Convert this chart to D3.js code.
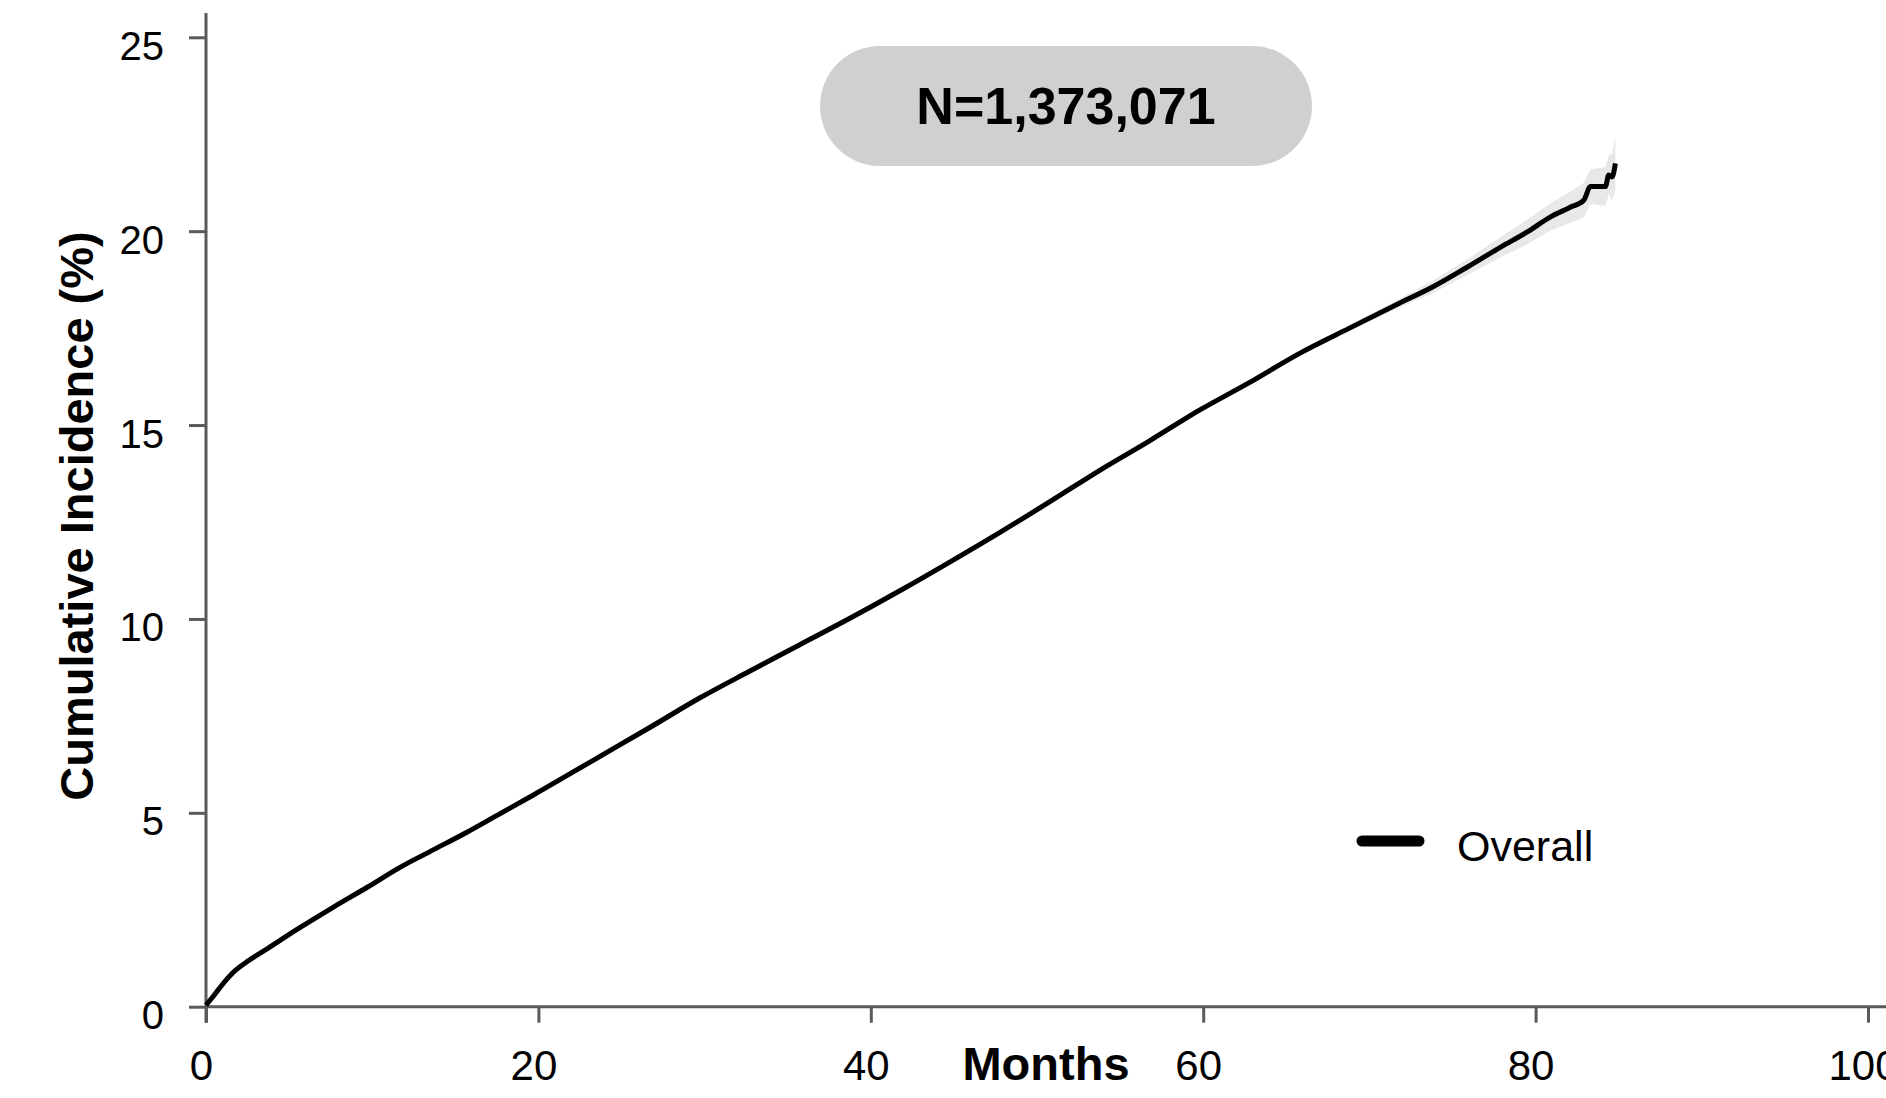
<!DOCTYPE html>
<html>
<head>
<meta charset="utf-8">
<script src="https://cdn.jsdelivr.net/npm/d3@7"></script>
<style>
  body { margin: 0; background: #fff; }
  text { font-family: "Liberation Sans", Arial, sans-serif; }
</style>
</head>
<body>
<div id="chart"></div>
<script>
// cumulative incidence curve
var months = [0, 0.5, 1.0, 1.6, 2.5, 3.7, 5.5, 7.6, 9.7, 11.7, 13.7, 15.7, 17.7, 19.7, 23.4, 26.7, 29.7, 32.7, 35.7,
              38.8, 41.8, 44.8, 47.8, 50.8, 53.8, 56.8, 59.8, 62.8, 65.8, 68.8, 71.8, 73.8, 75.8, 77.9,
              79.5, 80.9, 82.0, 82.9, 83.3, 84.2, 84.4, 84.6, 84.8];
var incidence = [0.04, 0.3, 0.58, 0.87, 1.17, 1.5, 2.0, 2.55, 3.08, 3.6, 4.05, 4.5, 4.98, 5.46, 6.38, 7.2, 7.96, 8.65, 9.33,
                 10.03, 10.74, 11.48, 12.24, 13.03, 13.84, 14.6, 15.39, 16.1, 16.85, 17.5, 18.14, 18.56, 19.05, 19.59,
                 19.98, 20.37, 20.6, 20.8, 21.15, 21.15, 21.45, 21.4, 21.75];

// confidence band near the tail
var bandMonths = [65.8, 68.8, 71.8, 73.8, 75.8, 77.9, 79.5, 80.9, 82.0, 82.9, 83.3, 84.2, 84.4, 84.6, 84.8];
var bandHigh = [16.9, 17.58, 18.25, 18.72, 19.25, 19.85, 20.3, 20.72, 21.0, 21.25, 21.6, 21.65, 21.95, 22.0, 22.45];
var bandLow = [16.8, 17.42, 18.03, 18.4, 18.85, 19.33, 19.66, 20.02, 20.2, 20.35, 20.7, 20.65, 20.95, 20.8, 21.05];

var xTicks = [0, 20, 40, 60, 80, 100];
var yTicks = [0, 5, 10, 15, 20, 25];
var seriesName = "Overall";
var sampleLabel = "N=1,373,071";

var width = 1886, height = 1098;
var axisColor = "#5a5a5a";

var xScale = d3.scaleLinear().domain([0, 100]).range([206, 1868]);
var yScale = d3.scaleLinear().domain([0, 25]).range([1006.7, 37.3]);

var svg = d3.select("#chart").append("svg")
    .attr("width", width)
    .attr("height", height);

var curve = months.map((m, i) => ({m: m, v: incidence[i]}));
var band = bandMonths.map((m, i) => ({m: m, lo: bandLow[i], hi: bandHigh[i]}));

// band
svg.append("path")
    .datum(band)
    .attr("fill", "#e8e8e8")
    .attr("d", d3.area()
        .x(d => xScale(d.m))
        .y0(d => yScale(d.lo))
        .y1(d => yScale(d.hi)));

// x axis
var xAxis = svg.append("g")
    .attr("transform", `translate(0, ${yScale(0)})`)
    .call(d3.axisBottom(xScale).tickValues(xTicks).tickSize(16).tickSizeOuter(0));
xAxis.select(".domain").remove();
xAxis.selectAll("line").attr("stroke", axisColor).attr("stroke-width", 3);
xAxis.selectAll("text")
    .attr("dy", null)
    .attr("y", 73)
    .attr("x", -5)
    .attr("fill", "#000")
    .attr("font-size", 42)
    .attr("font-family", "Liberation Sans, Arial, sans-serif");
svg.append("line")
    .attr("x1", xScale(0)).attr("x2", width)
    .attr("y1", yScale(0)).attr("y2", yScale(0))
    .attr("stroke", axisColor).attr("stroke-width", 3);

// y axis
var yAxis = svg.append("g")
    .attr("transform", `translate(${xScale(0)}, 0)`)
    .call(d3.axisLeft(yScale).tickValues(yTicks).tickSize(17).tickPadding(25).tickSizeOuter(0));
yAxis.select(".domain").remove();
yAxis.selectAll("line").attr("stroke", axisColor).attr("stroke-width", 3);
yAxis.selectAll("text")
    .attr("dy", null)
    .attr("y", 22)
    .attr("fill", "#000")
    .attr("font-size", 40)
    .attr("font-family", "Liberation Sans, Arial, sans-serif");
svg.append("line")
    .attr("x1", xScale(0)).attr("x2", xScale(0))
    .attr("y1", 13).attr("y2", yScale(0) + 16)
    .attr("stroke", axisColor).attr("stroke-width", 3);

// curve
svg.append("path")
    .datum(curve)
    .attr("fill", "none")
    .attr("stroke", "#000")
    .attr("stroke-width", 5)
    .attr("stroke-linejoin", "round")
    .attr("d", d3.line().curve(d3.curveMonotoneX).x(d => xScale(d.m)).y(d => yScale(d.v)));

// axis titles
svg.append("text")
    .attr("x", 1046)
    .attr("y", 1080)
    .attr("text-anchor", "middle")
    .attr("font-weight", "bold")
    .attr("font-size", 47)
    .text("Months");

svg.append("text")
    .attr("text-anchor", "middle")
    .attr("font-weight", "bold")
    .attr("font-size", 47)
    .attr("transform", "translate(93,516) rotate(-90)")
    .text("Cumulative Incidence (%)");

// sample size pill
svg.append("rect")
    .attr("x", 820).attr("y", 46)
    .attr("width", 492).attr("height", 120)
    .attr("rx", 60).attr("ry", 60)
    .attr("fill", "#d0d0d0");
svg.append("text")
    .attr("x", 1066)
    .attr("y", 124)
    .attr("text-anchor", "middle")
    .attr("font-weight", "bold")
    .attr("font-size", 52)
    .text(sampleLabel);

// legend
svg.append("line")
    .attr("x1", 1362).attr("x2", 1419)
    .attr("y1", 841).attr("y2", 841)
    .attr("stroke", "#000")
    .attr("stroke-width", 11)
    .attr("stroke-linecap", "round");
svg.append("text")
    .attr("x", 1457)
    .attr("y", 861)
    .attr("font-size", 43)
    .text(seriesName);
</script>
</body>
</html>
